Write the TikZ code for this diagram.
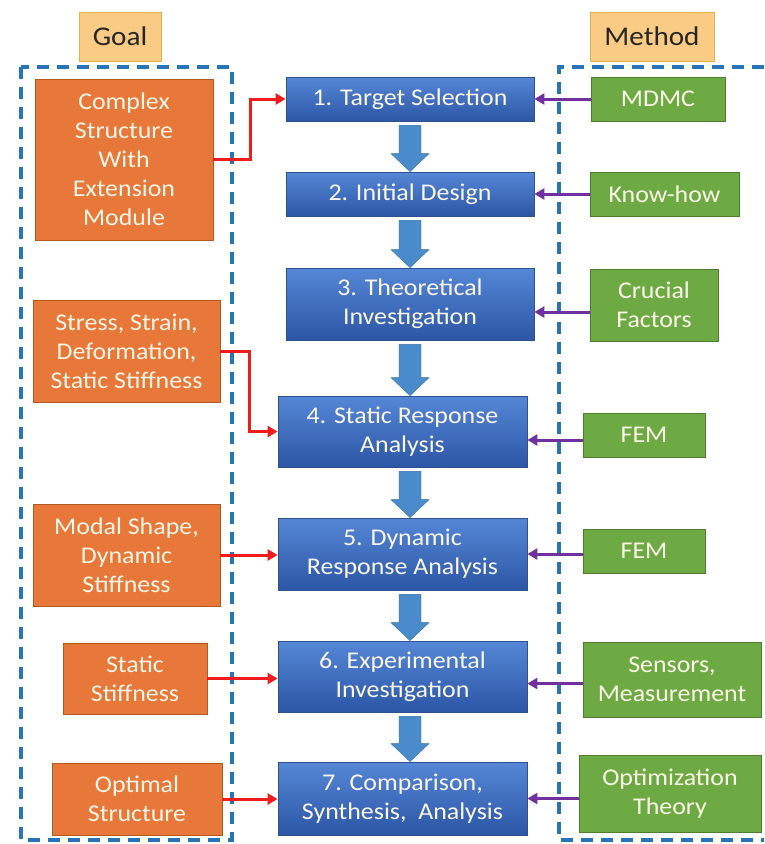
\documentclass[tikz,border=0pt]{standalone}
\usepackage{fontspec}
\setmainfont{Carlito}[FakeStretch=1.08]
\usetikzlibrary{arrows.meta,calc}
\definecolor{bluetop}{HTML}{5587D6}
\definecolor{bluebot}{HTML}{2C56A6}
\definecolor{blueedge}{HTML}{2F528F}
\definecolor{orangefill}{HTML}{E8783A}
\definecolor{orangeedge}{HTML}{B05A22}
\definecolor{greenfill}{HTML}{6EAA44}
\definecolor{greenedge}{HTML}{4E7D30}
\definecolor{headfill}{HTML}{F9CB85}
\definecolor{headedge}{HTML}{E2B347}
\definecolor{dashblue}{HTML}{2874B8}
\definecolor{arrowblue}{HTML}{4A8BCB}
\definecolor{redline}{HTML}{EE1C1C}
\definecolor{purpleline}{HTML}{7030A0}
\definecolor{boxtext}{HTML}{FBF6E8}
\begin{document}
\begin{tikzpicture}[x=1pt,y=-1pt,
  base/.style={rectangle, inner sep=0pt, align=center, text=boxtext,
    font=\fontsize{24}{29}\selectfont, line width=0.8pt},
  bluebox/.style={base, draw=blueedge, top color=bluetop, bottom color=bluebot},
  orangebox/.style={base, draw=orangeedge, fill=orangefill},
  greenbox/.style={base, draw=greenedge, fill=greenfill},
  headbox/.style={rectangle, inner sep=0pt, draw=headedge, fill=headfill, line width=0.8pt,
    font=\fontsize{27}{30}\selectfont, text=black!85},
  dashframe/.style={draw=dashblue, line width=3.5pt, dash pattern=on 12pt off 8pt},
  redarrow/.style={draw=redline, line width=3pt, -{Triangle[length=10pt,width=11pt]}},
  purplearrow/.style={draw=purpleline, line width=3pt, -{Triangle[length=10pt,width=11pt]}},
  blockarrow/.style={fill=arrowblue, draw=arrowblue!80!black, line width=0.4pt}
]
\useasboundingbox (0,0) rectangle (764,844);

% headers
\node[headbox, minimum width=82, minimum height=49] (goal) at (120,36.5) {Goal};
\node[headbox, minimum width=124, minimum height=49] (method) at (652,36.5) {Method};

% dashed frames
\draw[dashframe] (21,67) rectangle (232,840);
\draw[dashframe] (764,67) -- (559,67) -- (559,840) -- (764,840);

% central blue boxes
\node[bluebox, minimum width=248, minimum height=44] (b1) at (410,99) {1. Target Selection};
\node[bluebox, minimum width=248, minimum height=44] (b2) at (410,194) {2. Initial Design};
\node[bluebox, minimum width=248, minimum height=72] (b3) at (410,304) {3. Theoretical\\Investigation};
\node[bluebox, minimum width=249, minimum height=71] (b4) at (402.5,431.5) {4. Static Response\\Analysis};
\node[bluebox, minimum width=249, minimum height=72] (b5) at (402.5,554) {5. Dynamic\\Response Analysis};
\node[bluebox, minimum width=249, minimum height=71] (b6) at (402.5,676.5) {6. Experimental\\Investigation};
\node[bluebox, minimum width=249, minimum height=73] (b7) at (402.5,798.5) {7. Comparison,\\Synthesis,\ \ Analysis};

% goal boxes
\node[orangebox, minimum width=178, minimum height=161] (o1) at (124,159.5) {Complex\\Structure\\With\\Extension\\Module};
\node[orangebox, minimum width=187, minimum height=102] (o2) at (126.5,351) {Stress, Strain,\\Deformation,\\Static Stiffness};
\node[orangebox, minimum width=187, minimum height=102] (o3) at (126.5,555) {Modal Shape,\\Dynamic\\Stiffness};
\node[orangebox, minimum width=144, minimum height=71] (o4) at (135,678.5) {Static\\Stiffness};
\node[orangebox, minimum width=170, minimum height=72] (o5) at (137,799) {Optimal\\Structure};

% method boxes
\node[greenbox, minimum width=134, minimum height=44] (g1) at (658,99) {MDMC};
\node[greenbox, minimum width=149, minimum height=44] (g2) at (664.5,194) {Know-how};
\node[greenbox, minimum width=128, minimum height=72] (g3) at (654,305) {Crucial\\Factors};
\node[greenbox, minimum width=122, minimum height=44] (g4) at (644,435) {FEM};
\node[greenbox, minimum width=122, minimum height=44] (g5) at (644,551) {FEM};
\node[greenbox, minimum width=178, minimum height=75] (g6) at (672,679.5) {Sensors,\\Measurement};
\node[greenbox, minimum width=182, minimum height=77] (g7) at (670,793.5) {Optimization\\Theory};

% block arrows between steps
\newcommand\stepflow[2]{%
  \path[blockarrow] let \p1=(#1.south), \p2=(#2.north) in
    (399pt,\y1-4pt) -- (421pt,\y1-4pt) -- (421pt,\y2+18pt) -- (429pt,\y2+18pt)
    -- (410pt,\y2) -- (391pt,\y2+18pt) -- (399pt,\y2+18pt) -- cycle;}
\stepflow{b1}{b2}
\stepflow{b2}{b3}
\stepflow{b3}{b4}
\stepflow{b4}{b5}
\stepflow{b5}{b6}
\stepflow{b6}{b7}

% red connectors (goals)
\draw[redarrow] (o1.east) -- ++(37,0) |- (b1.west);
\draw[redarrow] (o2.east) -- ++(29,0) |- (b4.west);
\draw[redarrow] (o3.east) -- (o3.east -| b5.west);
\draw[redarrow] (o4.east) -- (o4.east -| b6.west);
\draw[redarrow] (o5.east) -- (o5.east -| b7.west);

% purple connectors (methods)
\draw[purplearrow] (g1.west) -- (g1.west -| b1.east);
\draw[purplearrow] (g2.west) -- (g2.west -| b2.east);
\draw[purplearrow] ([yshift=-7pt]g3.west) -- ([yshift=-7pt]g3.west -| b3.east);
\draw[purplearrow] ([yshift=-5pt]g4.west) -- ([yshift=-5pt]g4.west -| b4.east);
\draw[purplearrow] ([yshift=-3pt]g5.west) -- ([yshift=-3pt]g5.west -| b5.east);
\draw[purplearrow] ([yshift=-4pt]g6.west) -- ([yshift=-4pt]g6.west -| b6.east);
\draw[purplearrow] ([yshift=-5pt]g7.west) -- ([yshift=-5pt]g7.west -| b7.east);
\end{tikzpicture}
\end{document}
